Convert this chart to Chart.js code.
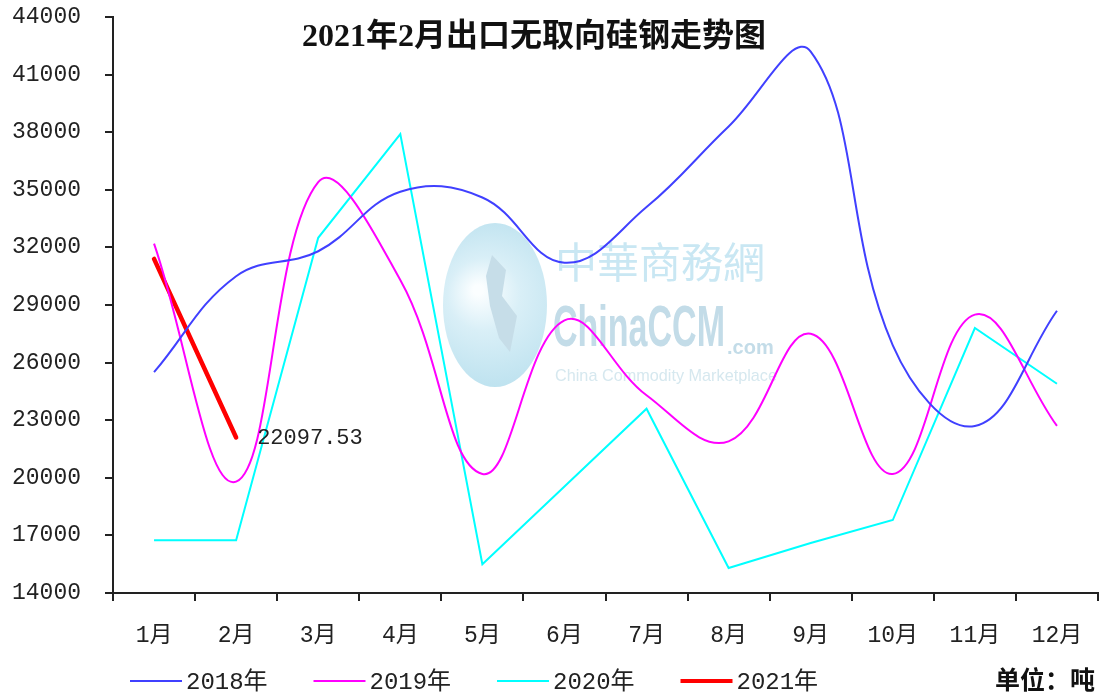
<!DOCTYPE html>
<html lang="zh-CN">
<head>
    <meta charset="UTF-8">
    <title>2021年2月出口无取向硅钢走势图</title>
    <script src="https://cdn.jsdelivr.net/npm/chart.js"></script>
    <style>
        body { margin: 0; background: #fff; }
    </style>
</head>
<body>
    <canvas id="myChart" width="1112" height="697"></canvas>
    <script>
        // Dados (toneladas)
        const months = ['1月', '2月', '3月', '4月', '5月', '6月', '7月', '8月', '9月', '10月', '11月', '12月'];
        const yearLabels = ['2018年', '2019年', '2020年', '2021年'];
        const s2018 = [25500, 30500, 31800, 34900, 34600, 31200, 34100, 38300, 42200, 26900, 22700, 28700];
        const s2019 = [32200, 19800, 35400, 30300, 20200, 28200, 24300, 21900, 27500, 20200, 28500, 22700];
        const s2020 = [16750, 16750, 32500, 37900, 15500, 19550, 23600, 15300, 16600, 17800, 27800, 24900];
        const s2021 = [31400, 22097.53];
        const yMin = 14000;
        const yMax = 44000;
        const yStep = 3000;
        const titleText = '2021年2月出口无取向硅钢走势图';
        const unitText = '单位：吨';

        const monoFont = '"Liberation Mono", "Noto Sans CJK SC", monospace';
        const axisColor = '#222';

        const extras = {
            id: 'extras',
            beforeDatasetsDraw(chart) {
                // marca d'água
                const ctx = chart.ctx;
                ctx.save();
                const g = ctx.createRadialGradient(478, 290, 5, 495, 303, 95);
                g.addColorStop(0, '#fbfeff');
                g.addColorStop(0.35, '#d9eff7');
                g.addColorStop(1, '#b9e0ee');
                ctx.fillStyle = g;
                ctx.beginPath();
                ctx.ellipse(495, 305, 52, 82, 0, 0, Math.PI * 2);
                ctx.fill();
                ctx.fillStyle = '#c6dde8';
                ctx.beginPath();
                ctx.moveTo(492, 255); ctx.lineTo(506, 270); ctx.lineTo(502, 296);
                ctx.lineTo(517, 316); ctx.lineTo(510, 352); ctx.lineTo(499, 338);
                ctx.lineTo(490, 306); ctx.lineTo(486, 276);
                ctx.closePath();
                ctx.fill();
                ctx.fillStyle = '#c9e7f3';
                ctx.textBaseline = 'middle';
                ctx.textAlign = 'left';
                ctx.font = '42px "Noto Sans CJK TC", "Noto Sans CJK SC", sans-serif';
                ctx.fillText('中華商務網', 555, 262, 212);
                ctx.fillStyle = '#c3dce8';
                ctx.font = 'bold 58px "Liberation Sans Narrow", "Liberation Sans", sans-serif';
                ctx.fillText('ChinaCCM', 553, 330, 172);
                ctx.font = 'bold 20px "Liberation Sans", sans-serif';
                ctx.fillText('.com', 727, 348);
                ctx.fillStyle = '#d6e8ef';
                ctx.font = '17px "Liberation Sans", sans-serif';
                ctx.fillText('China Commodity Marketplace', 555, 376, 222);
                ctx.restore();
            },
            afterDraw(chart) {
                const ctx = chart.ctx;
                ctx.save();
                // título
                ctx.fillStyle = '#111';
                ctx.textAlign = 'center';
                ctx.textBaseline = 'middle';
                ctx.font = 'bold 32px "Liberation Serif", "Noto Sans CJK SC", serif';
                ctx.fillText(titleText, 534, 38);

                // rótulo do último ponto de 2021
                const meta = chart.getDatasetMeta(3);
                const last = meta.data[meta.data.length - 1];
                ctx.fillStyle = '#222';
                ctx.textAlign = 'left';
                ctx.font = '22px ' + monoFont;
                ctx.fillText(s2021[s2021.length - 1].toFixed(2), last.x + 21, last.y + 1);

                // legenda
                chart.data.datasets.forEach((ds, i) => {
                    const x0 = 130 + i * 183.5;
                    ctx.strokeStyle = ds.borderColor;
                    ctx.lineWidth = i === 3 ? 4 : 2;
                    ctx.beginPath();
                    ctx.moveTo(x0, 681);
                    ctx.lineTo(x0 + 52, 681);
                    ctx.stroke();
                    ctx.fillStyle = '#222';
                    ctx.font = '24px ' + monoFont;
                    ctx.fillText(ds.label, x0 + 56, 683);
                });

                // unidade
                ctx.fillStyle = '#111';
                ctx.font = 'bold 25px "Noto Sans CJK SC", sans-serif';
                ctx.fillText(unitText, 995, 679);
                ctx.restore();
            }
        };

        const ctx = document.getElementById('myChart').getContext('2d');
        const myChart = new Chart(ctx, {
            type: 'line',
            data: {
                labels: months,
                datasets: [
                    { label: yearLabels[0], data: s2018, borderColor: '#4040ff', borderWidth: 2, tension: 0.4 },
                    { label: yearLabels[1], data: s2019, borderColor: '#ff00ff', borderWidth: 2, tension: 0.4 },
                    { label: yearLabels[2], data: s2020, borderColor: '#00ffff', borderWidth: 2, tension: 0 },
                    { label: yearLabels[3], data: s2021, borderColor: '#ff0000', borderWidth: 4.5, tension: 0, borderCapStyle: 'round' }
                ]
            },
            options: {
                responsive: false,
                animation: false,
                devicePixelRatio: 1,
                layout: { padding: { left: 0, top: 17, right: 14, bottom: 0 } },
                elements: { point: { radius: 0, hoverRadius: 0 } },
                plugins: {
                    legend: { display: false },
                    title: { display: false },
                    tooltip: { enabled: false }
                },
                scales: {
                    x: {
                        offset: true,
                        grid: { offset: true, drawOnChartArea: false, drawTicks: true, tickLength: 8, color: axisColor, lineWidth: 2 },
                        border: { color: axisColor, width: 2 },
                        ticks: { color: '#222', padding: 21, maxRotation: 0, font: { family: monoFont, size: 23 } },
                        afterFit(scale) {
                            scale.height = 104;
                            scale.paddingLeft = 0;
                            scale.paddingRight = 0;
                        }
                    },
                    y: {
                        min: yMin,
                        max: yMax,
                        grid: { drawOnChartArea: false, drawTicks: true, tickLength: 8, color: axisColor, lineWidth: 2 },
                        border: { color: axisColor, width: 2 },
                        ticks: {
                            stepSize: yStep,
                            color: '#222',
                            padding: 24,
                            font: { family: monoFont, size: 23 },
                            callback: (value) => String(value)
                        },
                        afterFit(scale) {
                            scale.width = 113;
                            scale.paddingTop = 0;
                            scale.paddingBottom = 0;
                        }
                    }
                }
            },
            plugins: [extras]
        });
    </script>
</body>
</html>
